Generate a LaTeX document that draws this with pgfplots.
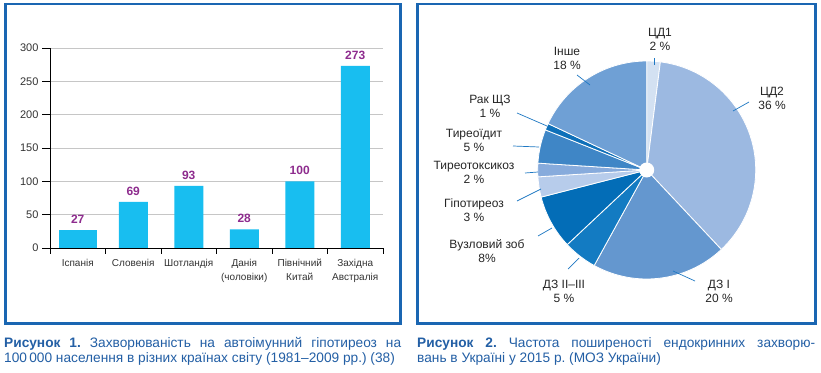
\documentclass[border=0pt]{standalone}
\usepackage{fontspec}
\setmainfont{Liberation Sans}
\usepackage{pgfplots}
\pgfplotsset{compat=1.18}
\definecolor{frameblue}{RGB}{26,102,178}
\definecolor{barcyan}{RGB}{24,190,240}
\definecolor{valpurple}{RGB}{142,44,142}
\definecolor{capblue}{RGB}{35,95,165}
\definecolor{leader}{RGB}{30,120,195}
\definecolor{pA}{HTML}{D3E1F2}
\definecolor{pB}{HTML}{9CB9E1}
\definecolor{pC}{HTML}{6497CF}
\definecolor{pD}{HTML}{137BC2}
\definecolor{pE}{HTML}{036DB7}
\definecolor{pF}{HTML}{B7CCEB}
\definecolor{pG}{HTML}{87ABDC}
\definecolor{pH}{HTML}{3F86C6}
\definecolor{pI}{HTML}{0E70B9}
\definecolor{pJ}{HTML}{6FA0D5}
\frenchspacing
\begin{document}
\begin{tikzpicture}
\useasboundingbox (0,0) rectangle (821pt,372pt);
\fill[white] (0,0) rectangle (821pt,372pt);
\draw[frameblue, line width=2.5pt] (5.3pt,368pt) rectangle (400.3pt,48.3pt);
\draw[frameblue, line width=2.5pt] (417.3pt,368pt) rectangle (815.3pt,48.3pt);

% ---------- bar chart ----------
\begin{axis}[
  at={(50pt,124pt)}, anchor=south west,
  scale only axis, width=333pt, height=200pt,
  xmin=-0.5, xmax=5.5, ymin=0, ymax=300,
  axis x line*=bottom, axis y line*=left,
  axis line style={black, line width=0.9pt},
  every tick/.style={black, line width=0.9pt},
  tick align=outside,
  major tick length=8pt, minor tick length=6pt,
  xtick={0,1,2,3,4,5},
  xticklabels={Іспанія,Словенія,Шотландія,{Данія\\(чоловіки)},{Північний\\Китай},{Західна\\Австралія}},
  major x tick style={draw=none},
  minor xtick={-0.5,0.5,1.5,2.5,3.5,4.5,5.5},
  ytick={0,50,100,150,200,250,300},
  ymajorgrids, grid style={draw=gray!45, line width=0.7pt},
  xticklabel style={font=\fontsize{10}{14}\selectfont, align=center, text=black!80, anchor=north},
  yticklabel style={font=\fontsize{11}{13}\selectfont, text=black!80},
  /pgf/number format/assume math mode=true,
  nodes near coords,
  every node near coord/.append style={font=\bfseries\fontsize{12}{14}\selectfont, text=valpurple, inner sep=0pt, anchor=south, yshift=6.5pt},
  clip=false,
]
\addplot[ybar, bar width=38pt, bar shift=0pt, fill=barcyan, draw=none] coordinates {(0,27)};
\addplot[ybar, bar width=29pt, bar shift=0pt, fill=barcyan, draw=none] coordinates {(1,69) (2,93) (3,28) (4,100) (5,273)};
\end{axis}

% ---------- pie chart ----------
\begin{axis}[
  at={(417pt,46pt)}, anchor=south west,
  scale only axis, width=399pt, height=323pt,
  xmin=417, xmax=816, ymin=3, ymax=326, y dir=reverse,
  hide axis, clip=false,
]
\addplot[draw=none] coordinates {(646.7,170)};
\pgfplotsextra{
  \gdef\pieang{90}
  \foreach \p/\c in {2/pA,36/pB,20/pC,5/pD,8/pE,3/pF,2/pG,5/pH,1/pI,18/pJ}{
    \pgfmathsetmacro\pieend{\pieang-3.6*\p}
    \fill[\c, draw=white, line width=0.8pt, line join=round] (axis cs:646.7,170) -- ++(\pieang:109pt) arc[start angle=\pieang, end angle=\pieend, radius=109pt] -- cycle;
    \global\let\pieang\pieend
  }
  \fill[white] (axis cs:646.7,170) circle[radius=7.5pt];
}
\draw[leader, line width=0.7pt] (axis cs:654,58) -- (axis cs:654,65);
\draw[leader, line width=0.7pt] (axis cs:749,102) -- (axis cs:733,111);
\draw[leader, line width=0.7pt] (axis cs:695,281) -- (axis cs:673,271);
\draw[leader, line width=0.7pt] (axis cs:568,269) -- (axis cs:579,258);
\draw[leader, line width=0.7pt] (axis cs:538,236) -- (axis cs:552,228);
\draw[leader, line width=0.7pt] (axis cs:517,201) -- (axis cs:541,189);
\draw[leader, line width=0.7pt] (axis cs:525,173) -- (axis cs:538,172);
\draw[leader, line width=0.7pt] (axis cs:513,146) -- (axis cs:539,147);
\draw[leader, line width=0.7pt] (axis cs:517,113) -- (axis cs:547,126);
\draw[leader, line width=0.7pt] (axis cs:577,75) -- (axis cs:590,85);
\begin{scope}[every node/.style={align=center, inner sep=0pt, text=black!85, font=\fontsize{12}{14}\selectfont}]
\node at (axis cs:660,39) {ЦД1\\2 \%};
\node at (axis cs:772,98) {ЦД2\\36 \%};
\node at (axis cs:719,291) {ДЗ I\\20 \%};
\node at (axis cs:564,291) {ДЗ II–III\\5 \%};
\node at (axis cs:487,251) {Вузловий зоб\\8\%};
\node at (axis cs:474,210.5) {Гіпотиреоз\\3 \%};
\node at (axis cs:474,172.5) {Тиреотоксикоз\\2 \%};
\node at (axis cs:474,140) {Тиреоїдит\\5 \%};
\node at (axis cs:490,106) {Рак ЩЗ\\1 \%};
\node at (axis cs:567,58) {Інше\\18 \%};
\end{scope}
\end{axis}

% ---------- captions ----------
\node[anchor=north west, inner sep=0pt, text width=397pt, align=justify, text=capblue, font=\fontsize{13.7}{15.3}\selectfont] at (4pt,34.8pt)
  {{\bfseries Рисунок 1.} Захворюваність на автоімунний гіпотиреоз на\linebreak 100\,000 населення в різних країнах світу (1981–2009 рр.) (38)};
\node[anchor=north west, inner sep=0pt, text width=398pt, align=justify, text=capblue, font=\fontsize{13.7}{15.3}\selectfont] at (417pt,34.8pt)
  {{\bfseries Рисунок 2.} Частота поширеності ендокринних захворю-\linebreak вань в Україні у 2015 р. (МОЗ України)};
\end{tikzpicture}
\end{document}
